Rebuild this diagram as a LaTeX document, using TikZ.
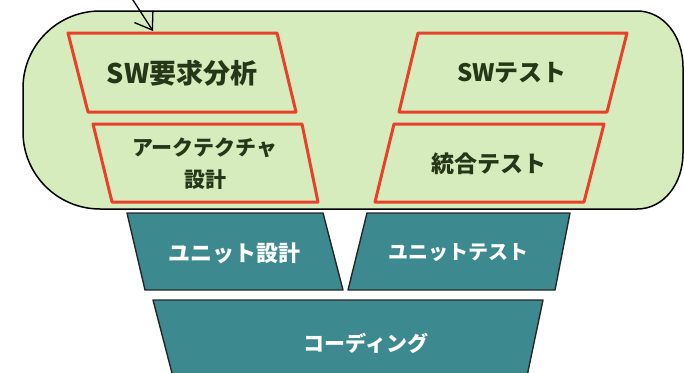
\documentclass[tikz,border=0pt]{standalone}
\usepackage{fontspec}
\newfontfamily\jp{Noto Sans CJK JP}
\usetikzlibrary{arrows.meta}
\definecolor{grn}{RGB}{214,236,188}
\definecolor{tealbox}{RGB}{60,138,143}
\definecolor{redbox}{RGB}{232,64,42}
\definecolor{txtgrn}{RGB}{38,54,24}
\begin{document}
\begin{tikzpicture}[x=1pt,y=-1pt,
  frame/.style={draw=black,line width=1.5pt,fill=grn},
  redpar/.style={draw=redbox,line width=3pt,line join=round},
  tealpar/.style={draw=black!85,line width=1.4pt,fill=tealbox,line join=round},
  lbl/.style={inner sep=0pt,text=txtgrn,font=\jp\bfseries\fontsize{24}{28}\selectfont},
  lblthin/.style={inner sep=0pt,text=txtgrn,align=center,font=\jp\bfseries\fontsize{21}{32}\selectfont},
  wlbl/.style={inner sep=0pt,text=white,font=\jp\bfseries\fontsize{21}{25}\selectfont},
  arr/.style={-{Straight Barb[length=16pt,width=22pt]},line width=1.3pt}]
\useasboundingbox (0,0) rectangle (684,372);
\fill[white] (0,0) rectangle (684,372);
% green rounded frame
\path[frame] (100,11) -- (637,11)
  .. controls (663.5,11) and (683,36) .. (683,67) -- (683,153)
  .. controls (683,184) and (663.5,209) .. (637,209) -- (100,209)
  .. controls (57.5,209) and (23,174.5) .. (23,132) -- (23,88)
  .. controls (23,45.5) and (57.5,11) .. (100,11) -- cycle;
% red parallelograms
\draw[redpar] (68,33) -- (277,33) -- (296,112) -- (88,112) -- cycle;
\draw[redpar] (93,124) -- (302,124) -- (318,202) -- (112,202) -- cycle;
\draw[redpar] (418,33) -- (627,33) -- (607,112) -- (399,112) -- cycle;
\draw[redpar] (394,124) -- (604,124) -- (584,202) -- (375,202) -- cycle;
% teal trapezia
\draw[tealpar] (127,213) -- (323,213) -- (343,290) -- (145,290) -- cycle;
\draw[tealpar] (367,213) -- (570,213) -- (555,290) -- (348,290) -- cycle;
\draw[tealpar] (153,300) -- (543,300) -- (522,400) -- (179,400) -- cycle;
% labels
\node[lbl,font=\jp\bfseries\fontsize{27}{30}\selectfont] (swreq) at (182,73) {SW要求分析};
\node[lblthin] (arch) at (205,164) {アークテクチャ\\設計};
\node[lbl] (swtest) at (512,73) {SWテスト};
\node[lbl,font=\jp\bfseries\fontsize{23}{27}\selectfont] (integ) at (489,164) {統合テスト};
\node[wlbl,font=\jp\bfseries\fontsize{22}{26}\selectfont] (udes) at (234,253) {ユニット設計};
\node[wlbl,font=\jp\bfseries\fontsize{20}{24}\selectfont] (utest) at (458,253) {ユニットテスト};
\node[wlbl] (coding) at (366,343) {コーディング};
% arrow
\coordinate (asrc) at (131,-3);
\coordinate (atip) at (153,31);
\draw[arr] (asrc) -- (atip);
\end{tikzpicture}
\end{document}
